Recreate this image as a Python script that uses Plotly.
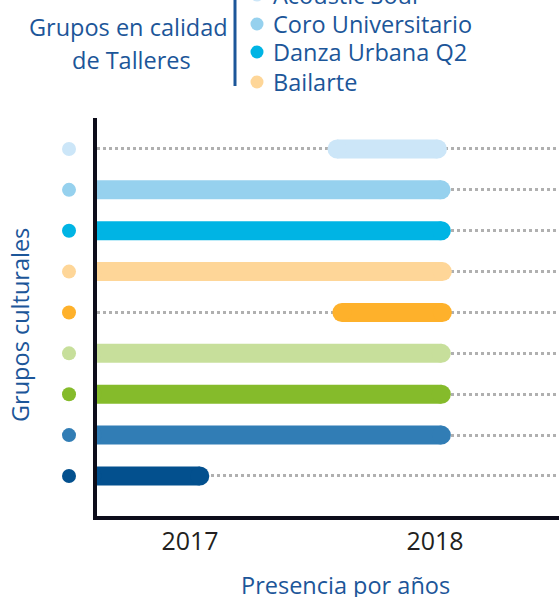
import plotly.graph_objects as go

# groups from top row to bottom row (names of rows 5-9 are cropped out of the legend)
groups = ["Acoustic Soul", "Coro Universitario", "Danza Urbana Q2", "Bailarte",
          "Grupo 5", "Grupo 6", "Grupo 7", "Grupo 8", "Grupo 9"]
colors = ["#cce6f8", "#96d1ee", "#00b4e4", "#fed698", "#feb12b",
          "#c7df9b", "#85bb2b", "#317db5", "#03508e"]
start_year = [2017.60, 2016.60, 2016.60, 2016.60, 2017.62, 2016.60, 2016.60, 2016.60, 2016.60]
end_year = [2018.01, 2018.025, 2018.026, 2018.03, 2018.03, 2018.026, 2018.026, 2018.026, 2017.04]
years = [2017, 2018]
legend_groups = groups[:4]

BLUE = "#1c5699"
FONT = "'Open Sans', sans-serif"

fig = go.Figure()

for g, c, s, e in zip(groups, colors, start_year, end_year):
    fig.add_trace(go.Scatter(
        x=[s, e], y=[g, g],
        mode="lines+markers",
        line=dict(color=c, width=19),
        marker=dict(color=c, size=19, line=dict(width=0)),
        hoverinfo="skip"
    ))

fig.update_xaxes(
    range=[2016.6204, 2018.5061],
    tickvals=years, ticktext=[str(y) for y in years],
    showline=True, linewidth=4, linecolor="#0d0d1a",
    showgrid=False, zeroline=False, ticks="",
    tickfont=dict(size=25, color="#231f20", family=FONT),
    ticklabelstandoff=0
)
fig.update_yaxes(
    type="category", categoryorder="array", categoryarray=groups[::-1],
    range=[-0.979, 8.758],
    showline=True, linewidth=4, linecolor="#0d0d1a",
    showgrid=True, gridcolor="#b0b0b0", gridwidth=3, griddash="dot",
    showticklabels=False, zeroline=False, ticks=""
)

annotations = [
    dict(x=0.0671, y=1.2286, text="Grupos en calidad"),
    dict(x=0.0736, y=1.1457, text="de Talleres"),
    dict(x=0.5368, y=-0.1734, text="Presencia por años"),
    dict(x=-0.1667, y=0.4799, text="Grupos culturales", textangle=-90),
]
shapes = [dict(type="line", xref="paper", yref="paper", x0=0.2987, x1=0.2987,
               y0=1.0804, y1=1.32, line=dict(color=BLUE, width=3))]

# coloured dots standing in for the y tick labels
for g, c in zip(groups, colors):
    shapes.append(dict(type="circle", xref="paper", yref="y",
                       xsizemode="pixel", ysizemode="pixel",
                       xanchor=-0.0606, yanchor=g, x0=-7, x1=7, y0=-7, y1=7,
                       fillcolor=c, line=dict(width=0)))

legend_y = [1.309, 1.2362, 1.1658, 1.0905]
for name, c, ly in zip(legend_groups, colors, legend_y):
    annotations.append(dict(x=0.3766, y=ly, text=name, xanchor="left"))
    shapes.append(dict(type="circle", xref="paper", yref="paper",
                       xsizemode="pixel", ysizemode="pixel",
                       xanchor=0.3463, yanchor=ly, x0=-6.5, x1=6.5, y0=-6.5, y1=6.5,
                       fillcolor=c, line=dict(width=0)))

for a in annotations:
    a.update(xref="paper", yref="paper", showarrow=False,
             yanchor="middle", font=dict(size=23.5, color=BLUE, family=FONT))
    a.setdefault("xanchor", "center")

fig.update_layout(
    width=559, height=597,
    margin=dict(l=97, r=0, t=118, b=81),
    paper_bgcolor="white", plot_bgcolor="white",
    showlegend=False,
    annotations=annotations,
    shapes=shapes,
    font=dict(family=FONT)
)

fig.write_html("out.html", config={"displayModeBar": False},
               post_script="document.body.style.margin='0';")
